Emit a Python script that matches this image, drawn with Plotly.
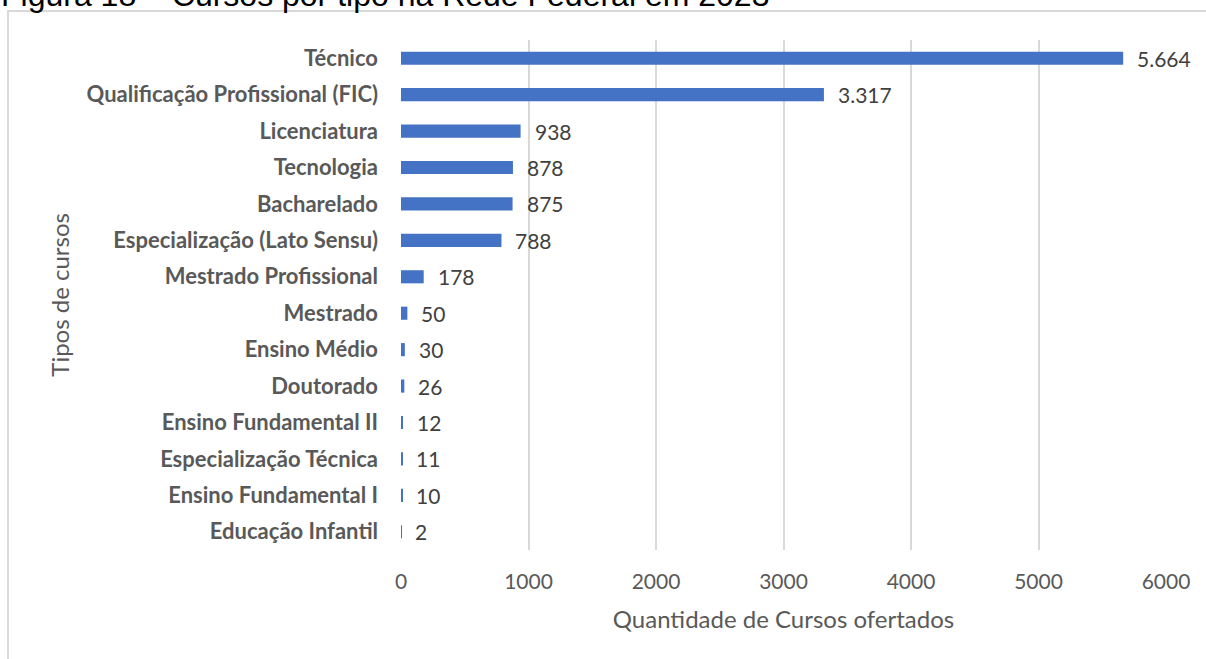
import plotly.graph_objects as go

# course types, top of the chart first
categories = [
    "Técnico", "Qualificação Profissional (FIC)", "Licenciatura", "Tecnologia",
    "Bacharelado", "Especialização (Lato Sensu)", "Mestrado Profissional",
    "Mestrado", "Ensino Médio", "Doutorado", "Ensino Fundamental II",
    "Especialização Técnica", "Ensino Fundamental I", "Educação Infantil",
]
counts = [5664, 3317, 938, 878, 875, 788, 178, 50, 30, 26, 12, 11, 10, 2]
x_ticks = [0, 1000, 2000, 3000, 4000, 5000, 6000]

# brazilian style thousands separator
labels = [f"{v:,}".replace(",", ".") for v in counts]

grey = "#595959"

fig = go.Figure()
fig.add_trace(go.Bar(
    y=categories, x=counts, orientation="h",
    marker=dict(color="#4472C4", line=dict(width=0)),
    width=0.36, hoverinfo="x+y",
))

# value labels right of every bar
for cat, v, lab in zip(categories, counts, labels):
    fig.add_annotation(x=v, y=cat, text=lab, showarrow=False, xanchor="left",
                       xshift=12, font=dict(family="Lato", size=21, color="#404040"))

fig.update_layout(
    width=1206, height=659,
    margin=dict(l=401, r=40, t=40, b=109),
    paper_bgcolor="white", plot_bgcolor="white",
    showlegend=False,
    xaxis=dict(
        range=[0, 6000], tickvals=x_ticks, ticktext=[str(t) for t in x_ticks],
        showgrid=True, gridcolor="#D9D9D9", gridwidth=1.5,
        zeroline=False, showline=False,
        tickfont=dict(family="Lato", size=21, color=grey),
        ticklabelstandoff=17,
        title=dict(text="Quantidade de Cursos ofertados",
                   font=dict(family="Lato", size=24, color=grey), standoff=19),
    ),
    yaxis=dict(
        categoryorder="array", categoryarray=categories[::-1],
        showgrid=False, zeroline=False, showline=False,
        tickfont=dict(family="Lato", size=22, color=grey, weight="bold"),
        ticklabelstandoff=22,
    ),
)

# y axis title placed by hand, far left like the original
fig.add_annotation(text="Tipos de cursos", textangle=-90, showarrow=False,
                   xref="paper", yref="paper", x=-0.469, y=0.5,
                   font=dict(family="Lato", size=24, color=grey))

# chart border box
fig.add_shape(type="rect", xref="paper", yref="paper",
              x0=-0.5137, x1=1.06, y0=-0.25, y1=1.0569,
              line=dict(color="#D9D9D9", width=2), layer="below")

# figure caption, cut off at the page top
fig.add_annotation(text="Figura 18 – Cursos por tipo na Rede Federal em 2023",
                   showarrow=False, xref="paper", yref="paper",
                   x=-0.526, y=1.049, xanchor="left", yanchor="bottom",
                   font=dict(family="Liberation Sans", size=32, color="black"))

# page has a default 8px body margin, drop it so the figure sits at 0,0
fig.write_html("out.html", config={"displayModeBar": False},
               post_script="document.body.style.margin='0';")
